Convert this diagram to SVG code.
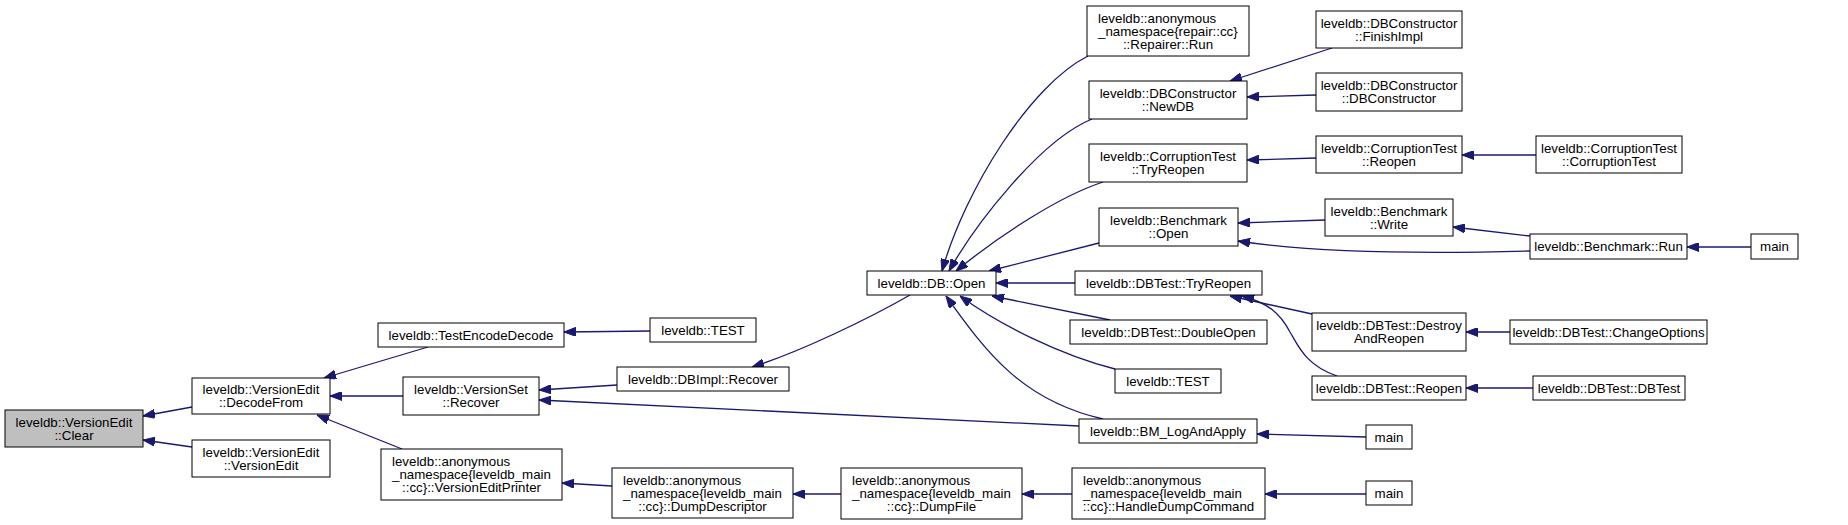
<svg xmlns="http://www.w3.org/2000/svg" width="1848" height="525" viewBox="0 0 1848 525">
<style>
rect{fill:#fff;stroke:#000;stroke-width:1}
rect.hl{fill:#bfbfbf}
text{font-family:"Liberation Sans",Arial,sans-serif;font-size:13.3px;fill:#000}
.c{text-anchor:middle}
#edges path{fill:none;stroke:#191970;stroke-width:1.3;marker-end:url(#ah)}
</style>
<defs>
<marker id="ah" markerUnits="userSpaceOnUse" viewBox="0 0 12 9" refX="12" refY="4.5" markerWidth="12" markerHeight="9" orient="auto">
<path d="M0,0 L12,4.5 L0,9 z" fill="#191970" stroke="#191970" stroke-width="1"/>
</marker>
</defs>
<rect x="0" y="0" width="1848" height="525" style="fill:#fff;stroke:none"/>
<g id="edges">
<path d="M192,407 L143,416"/>
<path d="M192,447 L143,440"/>
<path d="M428,347 L324,378"/>
<path d="M403,396 L330,396"/>
<path d="M402,449 L317,415"/>
<path d="M650,331 L564,332"/>
<path d="M617,385 L539,390"/>
<path d="M1079,426 L539,400"/>
<path d="M910,295 C870,318 800,352 752,367"/>
<path d="M612,486 L562,483"/>
<path d="M841,494 L793,494"/>
<path d="M1072,494 L1022,494"/>
<path d="M1366,494 L1265,494"/>
<path d="M1366,437 L1257,434"/>
<path d="M1088,56 C1030,85 965,190 942,271"/>
<path d="M1092,119 C1040,140 975,225 949,271"/>
<path d="M1103,182 C1060,196 1000,235 956,271"/>
<path d="M1099,243 L989,271"/>
<path d="M1075,283 L996,283"/>
<path d="M1110,320 L992,296"/>
<path d="M1115,369 C1060,355 1000,325 960,296"/>
<path d="M1103,419 C1020,400 985,350 946,296"/>
<path d="M1312,314 L1230,296"/>
<path d="M1337,376 C1305,365 1298,345 1290,332 C1280,313 1268,303 1242,296"/>
<path d="M1510,332 L1466,332"/>
<path d="M1533,388 L1466,388"/>
<path d="M1332,48 L1230,81"/>
<path d="M1316,95 L1247,97"/>
<path d="M1316,158 L1247,160"/>
<path d="M1536,155 L1462,155"/>
<path d="M1325,220 L1238,223"/>
<path d="M1530,251 C1420,254 1310,252 1238,241"/>
<path d="M1530,236 L1453,227"/>
<path d="M1751,247 L1687,247"/>
</g>
<g id="n_clear"><rect class="hl" x="5" y="410" width="138" height="37"/><text class="c" x="74" y="426.5">leveldb::VersionEdit</text><text class="c" x="74" y="439.5">::Clear</text></g>
<g id="n_decodefrom"><rect x="192" y="378" width="138" height="36"/><text class="c" x="261" y="394">leveldb::VersionEdit</text><text class="c" x="261" y="407">::DecodeFrom</text></g>
<g id="n_versionedit"><rect x="192" y="440" width="138" height="37"/><text class="c" x="261" y="456.5">leveldb::VersionEdit</text><text class="c" x="261" y="469.5">::VersionEdit</text></g>
<g id="n_testencodedecode"><rect x="378" y="323" width="186" height="24"/><text class="c" x="471" y="339.5">leveldb::TestEncodeDecode</text></g>
<g id="n_vsrecover"><rect x="403" y="377" width="136" height="38"/><text class="c" x="471" y="394">leveldb::VersionSet</text><text class="c" x="471" y="407">::Recover</text></g>
<g id="n_vep"><rect x="381" y="449" width="181" height="51"/><text x="392" y="466">leveldb::anonymous</text><text x="392" y="479">_namespace{leveldb_main</text><text class="c" x="471.5" y="492">::cc}::VersionEditPrinter</text></g>
<g id="n_test1"><rect x="650" y="318" width="106" height="24"/><text class="c" x="703" y="334.5">leveldb::TEST</text></g>
<g id="n_dbimplrecover"><rect x="617" y="367" width="172" height="24"/><text class="c" x="703" y="383.5">leveldb::DBImpl::Recover</text></g>
<g id="n_dumpdesc"><rect x="612" y="468" width="181" height="50"/><text x="623" y="484.5">leveldb::anonymous</text><text x="623" y="497.5">_namespace{leveldb_main</text><text class="c" x="702.5" y="510.5">::cc}::DumpDescriptor</text></g>
<g id="n_dbopen"><rect x="867" y="271" width="129" height="24"/><text class="c" x="931.5" y="287.5">leveldb::DB::Open</text></g>
<g id="n_dumpfile"><rect x="841" y="468" width="181" height="51"/><text x="852" y="485">leveldb::anonymous</text><text x="852" y="498">_namespace{leveldb_main</text><text class="c" x="931.5" y="511">::cc}::DumpFile</text></g>
<g id="n_repairer"><rect x="1087" y="6" width="162" height="50"/><text x="1098" y="22.5">leveldb::anonymous</text><text x="1098" y="35.5">_namespace{repair::cc}</text><text class="c" x="1168" y="48.5">::Repairer::Run</text></g>
<g id="n_newdb"><rect x="1089" y="81" width="158" height="38"/><text class="c" x="1168" y="98">leveldb::DBConstructor</text><text class="c" x="1168" y="111">::NewDB</text></g>
<g id="n_cttryreopen"><rect x="1089" y="144" width="158" height="38"/><text class="c" x="1168" y="161">leveldb::CorruptionTest</text><text class="c" x="1168" y="174">::TryReopen</text></g>
<g id="n_benchopen"><rect x="1099" y="208" width="139" height="38"/><text class="c" x="1168.5" y="225">leveldb::Benchmark</text><text class="c" x="1168.5" y="238">::Open</text></g>
<g id="n_dbtesttryreopen"><rect x="1075" y="271" width="187" height="24"/><text class="c" x="1168.5" y="287.5">leveldb::DBTest::TryReopen</text></g>
<g id="n_doubleopen"><rect x="1070" y="320" width="197" height="24"/><text class="c" x="1168.5" y="336.5">leveldb::DBTest::DoubleOpen</text></g>
<g id="n_test2"><rect x="1115" y="369" width="106" height="24"/><text class="c" x="1168" y="385.5">leveldb::TEST</text></g>
<g id="n_bmlog"><rect x="1079" y="419" width="178" height="24"/><text class="c" x="1168" y="435.5">leveldb::BM_LogAndApply</text></g>
<g id="n_handledump"><rect x="1072" y="468" width="193" height="51"/><text x="1083" y="485">leveldb::anonymous</text><text x="1083" y="498">_namespace{leveldb_main</text><text class="c" x="1168.5" y="511">::cc}::HandleDumpCommand</text></g>
<g id="n_finishimpl"><rect x="1316" y="11" width="146" height="37"/><text class="c" x="1389" y="27.5">leveldb::DBConstructor</text><text class="c" x="1389" y="40.5">::FinishImpl</text></g>
<g id="n_dbconstructor"><rect x="1316" y="73" width="146" height="38"/><text class="c" x="1389" y="90">leveldb::DBConstructor</text><text class="c" x="1389" y="103">::DBConstructor</text></g>
<g id="n_ctreopen"><rect x="1316" y="136" width="146" height="37"/><text class="c" x="1389" y="152.5">leveldb::CorruptionTest</text><text class="c" x="1389" y="165.5">::Reopen</text></g>
<g id="n_benchwrite"><rect x="1325" y="199" width="128" height="37"/><text class="c" x="1389" y="215.5">leveldb::Benchmark</text><text class="c" x="1389" y="228.5">::Write</text></g>
<g id="n_destroyreopen"><rect x="1312" y="313" width="154" height="38"/><text class="c" x="1389" y="330">leveldb::DBTest::Destroy</text><text class="c" x="1389" y="343">AndReopen</text></g>
<g id="n_dbtestreopen"><rect x="1312" y="376" width="154" height="24"/><text class="c" x="1389" y="392.5">leveldb::DBTest::Reopen</text></g>
<g id="n_main2"><rect x="1366" y="425" width="46" height="24"/><text class="c" x="1389" y="441.5">main</text></g>
<g id="n_main3"><rect x="1366" y="481" width="46" height="24"/><text class="c" x="1389" y="497.5">main</text></g>
<g id="n_ctct"><rect x="1536" y="136" width="146" height="37"/><text class="c" x="1609" y="152.5">leveldb::CorruptionTest</text><text class="c" x="1609" y="165.5">::CorruptionTest</text></g>
<g id="n_benchrun"><rect x="1530" y="234" width="157" height="25"/><text class="c" x="1608.5" y="251">leveldb::Benchmark::Run</text></g>
<g id="n_changeoptions"><rect x="1510" y="320" width="197" height="24"/><text class="c" x="1608.5" y="336.5">leveldb::DBTest::ChangeOptions</text></g>
<g id="n_dbtestdbtest"><rect x="1533" y="376" width="152" height="24"/><text class="c" x="1609" y="392.5">leveldb::DBTest::DBTest</text></g>
<g id="n_main1"><rect x="1751" y="234" width="47" height="25"/><text class="c" x="1774.5" y="251">main</text></g>
</svg>
